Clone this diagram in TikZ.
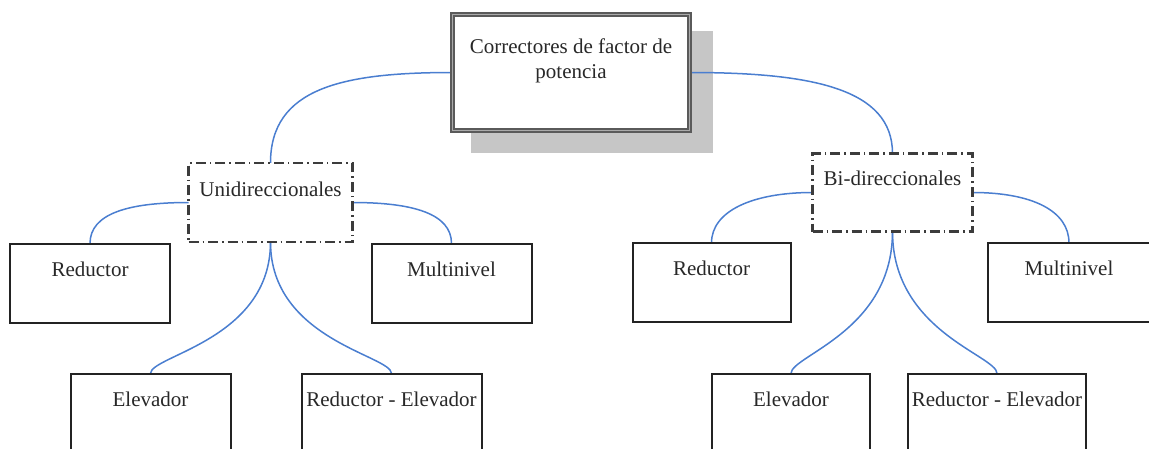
\documentclass[tikz,border=0pt]{standalone}
\usepackage{fontspec}
\setmainfont{Liberation Serif}
\usetikzlibrary{backgrounds}
\definecolor{linkblue}{RGB}{74,126,208}
\definecolor{boxline}{RGB}{35,35,35}
\definecolor{dashline}{RGB}{60,60,60}
\definecolor{shadowgray}{RGB}{198,198,198}
\definecolor{txtcol}{RGB}{40,40,40}
\definecolor{frameouter}{RGB}{90,90,90}
\definecolor{frameinner}{RGB}{170,170,170}
\begin{document}
\begin{tikzpicture}[x=1pt,y=-1pt,
  base/.style={rectangle, outer sep=0pt, inner xsep=0pt, inner ysep=0pt,
    fill=white, font=\fontsize{21pt}{25pt}\selectfont, text=txtcol},
  leaf/.style={base, draw=boxline, line width=2pt, minimum width=#1,
    text height=32.5pt, text depth=46.5pt},
  group/.style={base, draw=dashline, line width=2.2pt,
    dash pattern=on 10pt off 4pt on 1.5pt off 4pt, minimum width=#1},
  rootbox/.style={base, draw=frameouter, line width=2pt, double=frameinner,
    double distance=1.5pt, minimum width=237pt, text height=38.8pt, text depth=77.2pt},
  link/.style={draw=linkblue, line width=1.5pt}
]
\useasboundingbox (0,0) rectangle (1149,448);
\clip (0,0) rectangle (1149,448);

% root
\node[rootbox] (root) at (571,72.5)
  {\begin{tabular}[t]{@{}c@{}}Correctores de factor de\\ potencia\end{tabular}};

% groups
\node[group=164pt, text height=33.7pt, text depth=45.3pt] (uni) at (270.5,202.5) {Unidireccionales};
\node[group=160pt, text height=32.2pt, text depth=45.8pt] (bi) at (892.5,192.5) {Bi-direccionales};

% leaves left
\node[leaf=160pt] (lred)  at (90,283)    {Reductor};
\node[leaf=160pt] (lmul)  at (451.5,283) {Multinivel};
\node[leaf=160pt] (lelev) at (150.5,413) {Elevador};
\node[leaf=180pt] (lre)   at (391.5,413) {Reductor - Elevador};

% leaves right
\node[leaf=158pt] (rred)  at (711.5,282.5) {Reductor};
\node[leaf=162pt] (rmul)  at (1069,282.5)  {Multinivel};
\node[leaf=158pt] (relev) at (791,413)     {Elevador};
\node[leaf=178pt] (rre)   at (997,413)     {Reductor - Elevador};

\begin{scope}[on background layer]
  \fill[shadowgray] ([xshift=18.5pt,yshift=-16.5pt]root.north west)
    rectangle ([xshift=23.5pt,yshift=-22.5pt]root.south east);
  \draw[link] (root.west) .. controls +(-110,0) and +(0,-75) .. (uni.north);
  \draw[link] (root.east) .. controls +(122,0) and +(0,-65) .. (bi.north);
  \draw[link] (uni.west) .. controls +(-60,0) and +(0,-30) .. (lred.north);
  \draw[link] (uni.east) .. controls +(60,0) and +(0,-30) .. (lmul.north);
  \draw[link] (bi.west) .. controls +(-60,0) and +(0,-32) .. (rred.north);
  \draw[link] (bi.east) .. controls +(60,0) and +(0,-32) .. (rmul.north);
  \draw[link] (uni.south) .. controls +(0,98) and +(0,-18) .. (lelev.north);
  \draw[link] (uni.south) .. controls +(0,98) and +(0,-18) .. (lre.north);
  \draw[link] (bi.south) .. controls +(0,100) and +(0,-18) .. (relev.north);
  \draw[link] (bi.south) .. controls +(0,100) and +(0,-18) .. (rre.north);
\end{scope}
\end{tikzpicture}
\end{document}
